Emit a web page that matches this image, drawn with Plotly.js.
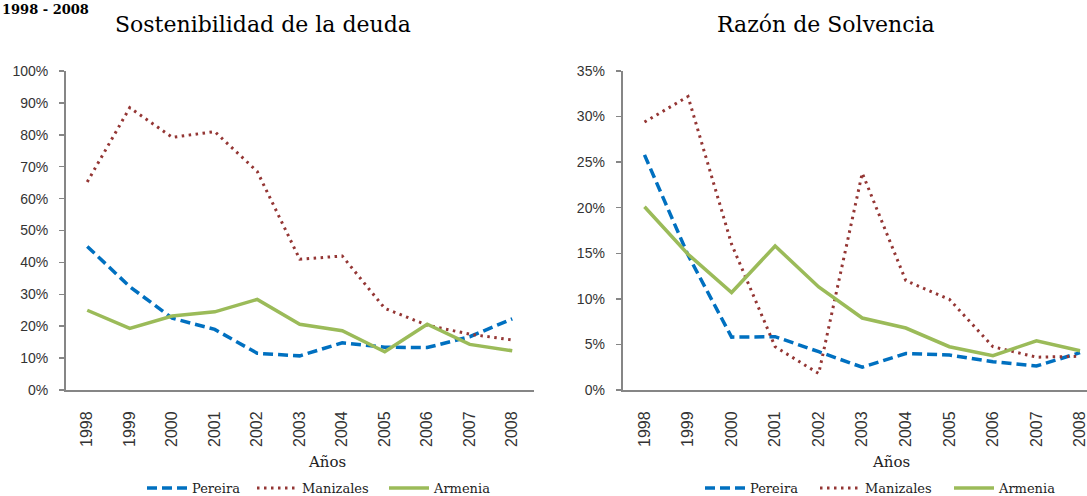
<!DOCTYPE html>
<html>
<head>
<meta charset="utf-8">
<script src="https://cdn.plot.ly/plotly-3.0.1.min.js"></script>
<style>html,body{margin:0;padding:0;background:#fff;}#chart{width:1087px;height:496px;}</style>
</head>
<body>
<div id="chart"></div>
<script>
const years = ["1998","1999","2000","2001","2002","2003","2004","2005","2006","2007","2008"];
const seriesNames = ["Pereira","Manizales","Armenia"];

// Sostenibilidad de la deuda (%)
const sostPereira   = [45, 32.4, 22.5, 19, 11.5, 10.7, 14.8, 13.4, 13.3, 16.7, 22.3];
const sostManizales = [65.2, 88.5, 79.2, 81, 68.5, 41, 42, 25.6, 20.3, 17.5, 15.7];
const sostArmenia   = [25, 19.3, 23.2, 24.5, 28.4, 20.6, 18.6, 12, 20.6, 14.3, 12.3];

// Razón de Solvencia (%)
const solvPereira   = [25.8, 14.8, 5.8, 5.85, 4.2, 2.5, 4.0, 3.84, 3.1, 2.63, 4.1];
const solvManizales = [29.4, 32.2, 16, 4.75, 1.8, 23.8, 12, 9.95, 4.75, 3.6, 3.7];
const solvArmenia   = [20.1, 14.9, 10.7, 15.8, 11.3, 7.9, 6.8, 4.75, 3.77, 5.4, 4.3];

const titles = ["Sostenibilidad de la deuda", "Razón de Solvencia"];
const xTitle = "Años";
const heading = "1998 - 2008";

const styles = [
  {color:"#0070C0", width:3.5, dash:"10px,5px"},
  {color:"#943634", width:3, dash:"2.5px,4.5px"},
  {color:"#9BBB59", width:3.5, dash:"solid"}
];

const left = [sostPereira, sostManizales, sostArmenia];
const right = [solvPereira, solvManizales, solvArmenia];
const traces = [];
left.forEach((v,i)=>traces.push({x:years,y:v,type:"scatter",mode:"lines",name:seriesNames[i],
  line:styles[i],xaxis:"x",yaxis:"y",legend:i===0?"legend":"legend"+(i+1)}));
right.forEach((v,i)=>traces.push({x:years,y:v,type:"scatter",mode:"lines",name:seriesNames[i],
  line:styles[i],xaxis:"x2",yaxis:"y2",legend:"legend"+(i+4)}));

const axisCol = "#868686";
const tickFont = {family:"Liberation Sans, Arial, sans-serif", size:14, color:"#333"};
const xBase = {type:"category", showline:true, linecolor:axisCol, linewidth:2, ticks:"",
  showgrid:false, zeroline:false, tickangle:-90, tickfont:{...tickFont, size:16},
  ticklabelstandoff:13, automargin:false, fixedrange:true};
const yBase = {showline:true, linecolor:axisCol, linewidth:2, ticks:"outside", ticklen:5, tickwidth:1.5,
  tickcolor:axisCol, showgrid:false, zeroline:false, ticksuffix:"%", tickfont:tickFont,
  ticklabelstandoff:8, automargin:false, fixedrange:true};

const serif = "DejaVu Serif, Liberation Serif, serif";
const legBase = {orientation:"h", xref:"container", yref:"container", yanchor:"middle", xanchor:"left", itemwidth:40,
  y:(496-488)/496, font:{family:serif, size:13, color:"#222"}, bgcolor:"rgba(0,0,0,0)"};
const legendStarts = [148, 258, 390, 706, 821, 955]; // left edge of each legend line (px)

const layout = {
  width:1087, height:496,
  margin:{l:0, r:0, t:71, b:106},
  paper_bgcolor:"#fff", plot_bgcolor:"#fff",
  showlegend:true,
  xaxis:{...xBase, domain:[66/1087, 533.5/1087], range:[-0.5,10.5], anchor:"y"},
  yaxis:{...yBase, range:[0,100], dtick:10, anchor:"x"},
  xaxis2:{...xBase, domain:[622.7/1087, 1], range:[-0.5,10.16], anchor:"y2"},
  yaxis2:{...yBase, range:[0,35], dtick:5, anchor:"x2"},
  annotations:[
    {text:titles[0], xref:"paper", yref:"paper", x:263/1087, y:1.145, xanchor:"center", yanchor:"middle",
     showarrow:false, font:{family:serif, size:22, color:"#000"}},
    {text:titles[1], xref:"paper", yref:"paper", x:826/1087, y:1.145, xanchor:"center", yanchor:"middle",
     showarrow:false, font:{family:serif, size:22, color:"#000"}},
    {text:xTitle, xref:"paper", yref:"paper", x:327/1087, y:-0.226, xanchor:"center", yanchor:"middle",
     showarrow:false, font:{family:serif, size:15, color:"#222"}},
    {text:xTitle, xref:"paper", yref:"paper", x:891/1087, y:-0.226, xanchor:"center", yanchor:"middle",
     showarrow:false, font:{family:serif, size:15, color:"#222"}},
    {text:"<b>"+heading+"</b>", xref:"paper", yref:"paper", x:0, y:1.222, xanchor:"left", yanchor:"top",
     showarrow:false, font:{family:serif, size:13, color:"#000"}}
  ]
};
legendStarts.forEach((px,i)=>{
  const key = i===0 ? "legend" : "legend"+(i+1);
  layout[key] = {...legBase, x:(px-6)/1087};
});

Plotly.newPlot("chart", traces, layout, {staticPlot:true, displayModeBar:false});
</script>
</body>
</html>
